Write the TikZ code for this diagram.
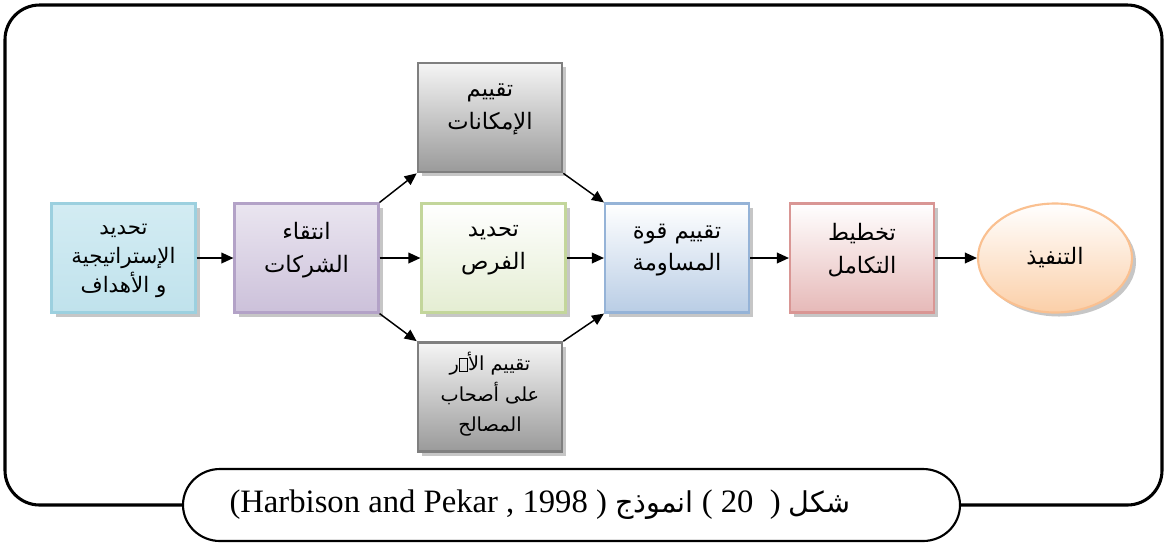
\documentclass[tikz,border=0pt]{standalone}
\usepackage{fontspec}
\setmainfont{Liberation Serif}
\newfontfamily\arabicfont[Script=Arabic]{DejaVu Sans}
\TeXXeTstate=1
\usetikzlibrary{arrows.meta,shapes.geometric,shadows}
\definecolor{cyanfill}{HTML}{C0E2EC}
\definecolor{cyantop}{HTML}{D3ECF3}
\definecolor{cyanline}{HTML}{9CD0DF}
\definecolor{lavfill}{HTML}{CCC1DA}
\definecolor{lavtop}{HTML}{EAE5F0}
\definecolor{lavline}{HTML}{B3A2C7}
\definecolor{grnfill}{HTML}{E4EDD2}
\definecolor{grnline}{HTML}{C3D69B}
\definecolor{bluefill}{HTML}{B9CDE5}
\definecolor{blueline}{HTML}{95B3D7}
\definecolor{pinkfill}{HTML}{E6B9B8}
\definecolor{pinkline}{HTML}{D99694}
\definecolor{peachfill}{HTML}{FBCFA8}
\definecolor{peachline}{HTML}{FAC090}
\definecolor{grayfill}{HTML}{9A9A9A}
\definecolor{grayline}{HTML}{7F7F7F}
\newcommand\AR[1]{\beginR #1\endR}
\newcommand\misglyph{{\fboxsep0pt\fboxrule0.5pt\fbox{\rule{0pt}{0.62em}\hspace{0.4em}}}}
\begin{document}
\begin{tikzpicture}[x=0.75pt,y=-0.75pt,
  shad/.style={drop shadow={shadow xshift=3pt,shadow yshift=-3pt,fill=gray!45,opacity=1}},
  stepbox/.style={rectangle,minimum width=108pt,minimum height=81.75pt,line width=1.6pt,shad},
  graybox/.style={stepbox,top color=gray!8,bottom color=grayfill,draw=grayline,line width=2pt},
  lbl/.style={align=center,inner sep=0pt,font=\arabicfont\fontsize{17}{24.5}\selectfont},
  smalllbl/.style={lbl,font=\arabicfont\fontsize{16}{21.75}\selectfont},
  arr/.style={-{Triangle[length=9pt,width=8pt]},line width=1.1pt},
  frame/.style={line width=2.3pt,rounded corners=26pt},
  capline/.style={line width=1.6pt}]
\useasboundingbox (0,0) rectangle (1166,544);

% frame
\coordinate (cw) at (183,505);
\coordinate (ce) at (960,505);
\draw[frame] (cw) -- (5,505) -- (5,5) -- (1162,5) -- (1162,505) -- (ce);

% caption shape
\draw[capline,fill=white] (220,469) -- (923,469)
  arc[start angle=-90,end angle=90,x radius=37,y radius=36] -- (220,541)
  arc[start angle=90,end angle=270,x radius=37,y radius=36] -- cycle;
\node[font=\fontsize{24.5}{28}\selectfont] (cap) at (540,505)
  {(Harbison and Pekar , 1998 ) {\arabicfont\fontsize{21.5}{26}\selectfont\AR{انموذج}} ( 20\ \ ) {\arabicfont\fontsize{21.5}{26}\selectfont\AR{شكل}}};

% boxes
\node[stepbox,top color=cyantop,bottom color=cyanfill,draw=cyanline] (b1) at (123.5,258) {};
\node[smalllbl] (b1t) at ([yshift=-2pt]b1.center) {\AR{تحديد}\\\AR{الإستراتيجية}\\\AR{و الأهداف}};
\node[stepbox,top color=lavtop,bottom color=lavfill,draw=lavline] (b2) at (306.5,258) {};
\node[lbl] (b2t) at ([yshift=6pt]b2.center) {\AR{انتقاء}\\\AR{الشركات}};
\node[graybox] (t) at (490,117.5) {};
\node[lbl] (tt) at ([yshift=6pt]t.center) {\AR{تقييم}\\\AR{الإمكانات}};
\node[stepbox,top color=white,bottom color=grnfill,draw=grnline] (b3) at (493.5,258) {};
\node[lbl] (b3t) at ([yshift=6pt]b3.center) {\AR{تحديد}\\\AR{الفرص}};
\node[graybox] (d) at (490,397) {};
\node[lbl,font=\arabicfont\fontsize{14.5}{23}\selectfont] (dt) at ([yshift=2pt]d.center)
  {\AR{تقييم الأ\misglyph ر}\\\AR{على أصحاب}\\\AR{المصالح}};
\node[stepbox,top color=white,bottom color=bluefill,draw=blueline] (b5) at (677,258) {};
\node[lbl] (b5t) at ([yshift=6pt]b5.center) {\AR{تقييم قوة}\\\AR{المساومة}};
\node[stepbox,top color=white,bottom color=pinkfill,draw=pinkline] (b6) at (862,258) {};
\node[lbl] (b6t) at ([yshift=6pt]b6.center) {\AR{تخطيط}\\\AR{التكامل}};
\node[ellipse,minimum width=115.5pt,minimum height=81.75pt,line width=1.6pt,shad,
  top color=white,bottom color=peachfill,draw=peachline] (e) at (1055,258) {};
\node[lbl] (et) at (e.center) {\AR{التنفيذ}};

% connectors
\draw[arr] (b1.east) -- (b2.west);
\draw[arr] (b2.east) -- (b3.west);
\draw[arr] (b2.north east) -- (t.south west);
\draw[arr] (b2.south east) -- (d.north west);
\draw[arr] (t.south east) -- (b5.north west);
\draw[arr] (d.north east) -- (b5.south west);
\draw[arr] (b3.east) -- (b5.west);
\draw[arr] (b5.east) -- (b6.west);
\draw[arr] (b6.east) -- (e.west);
\end{tikzpicture}
\end{document}
